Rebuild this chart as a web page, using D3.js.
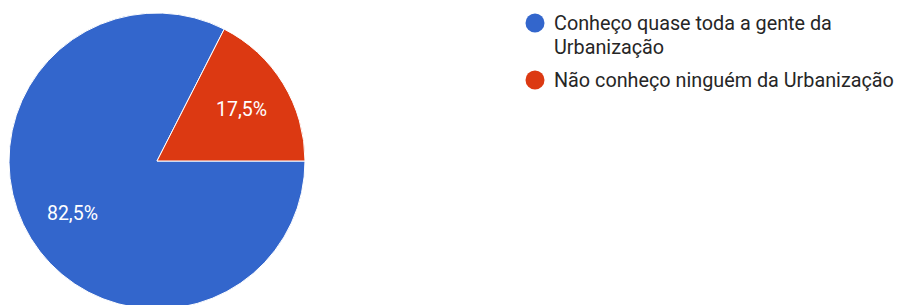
<!DOCTYPE html>
<html>
<head>
<meta charset="utf-8">
<script src="https://cdn.jsdelivr.net/npm/d3@7"></script>
<style>
  body { margin: 0; background: #fff; }
  svg { display: block; font-family: Roboto, Arial, sans-serif; }
</style>
</head>
<body>
<script>
const categories = ["Conheço quase toda a gente da Urbanização", "Não conheço ninguém da Urbanização"]
const legendLines = [["Conheço quase toda a gente da", "Urbanização"], ["Não conheço ninguém da Urbanização"]]
const values = [82.5, 17.5]
const colors = ["#3366cc", "#dc3912"]

const width = 901, height = 305
const cx = 157, cy = 161, r = 148

const svg = d3.select("body").append("svg")
  .attr("width", width)
  .attr("height", height)

const g = svg.append("g").attr("transform", `translate(${cx},${cy})`)

// first slice starts at 3 o'clock, clockwise
const pie = d3.pie().sort(null)
  .startAngle(Math.PI / 2)
  .endAngle(Math.PI / 2 + 2 * Math.PI)

const arc = d3.arc().innerRadius(0).outerRadius(r)
const labelArc = d3.arc().innerRadius(r * 0.67).outerRadius(r * 0.67)

const arcs = pie(values)

g.selectAll("path").data(arcs).enter().append("path")
  .attr("d", arc)
  .attr("fill", (d, i) => colors[i])
  .attr("stroke", "#fff")
  .attr("stroke-width", 1)

g.selectAll("text.lbl").data(arcs).enter().append("text")
  .attr("class", "lbl")
  .attr("transform", d => `translate(${labelArc.centroid(d)})`)
  .attr("text-anchor", "middle")
  .attr("dy", "0.35em")
  .attr("fill", "#fff")
  .style("font-size", "19.5px")
  .text(d => d3.format(".1f")(d.data).replace(".", ",") + "%")

// legend
const legend = svg.append("g").attr("transform", "translate(535,0)")
let y = 23
categories.forEach((c, i) => {
  const item = legend.append("g")
  item.append("circle")
    .attr("cx", 0).attr("cy", y)
    .attr("r", 9.5)
    .attr("fill", colors[i])
  legendLines[i].forEach((line, j) => {
    item.append("text")
      .attr("x", 19)
      .attr("y", y + j * 24)
      .attr("dy", "0.35em")
      .attr("fill", "#262626")
      .style("font-size", "19.8px")
      .text(line)
  })
  y += legendLines[i].length * 24 + 9
})
</script>
</body>
</html>
